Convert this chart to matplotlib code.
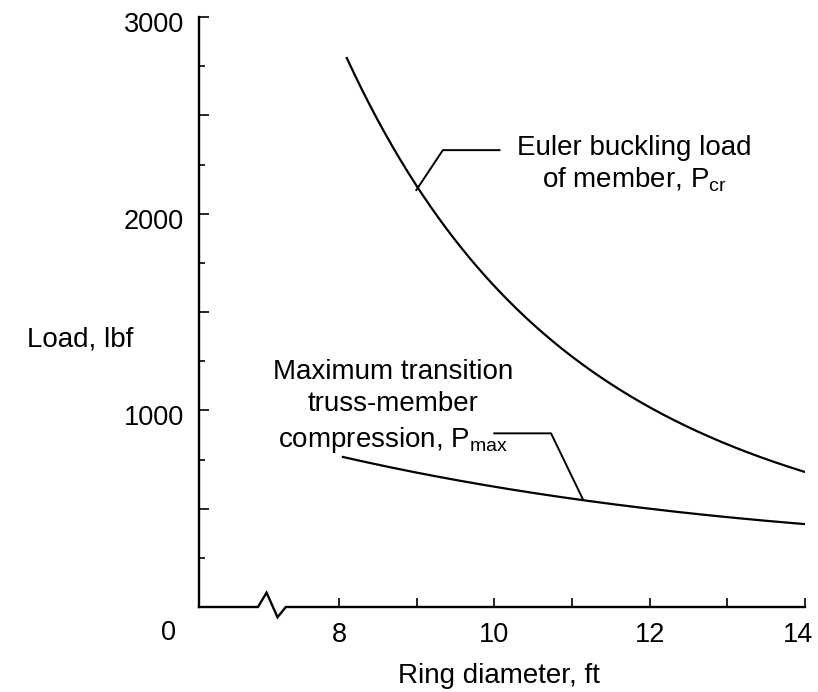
import matplotlib.pyplot as plt
import matplotlib.transforms as mtransforms
import numpy as np

plt.rcParams['font.family'] = ['Liberation Sans', 'DejaVu Sans']
plt.rcParams['mathtext.fontset'] = 'custom'
plt.rcParams['mathtext.rm'] = 'Liberation Sans'
plt.rcParams['mathtext.it'] = 'Liberation Sans:italic'

# Euler buckling load of member, P_cr (lbf) vs ring diameter (ft)
euler_d = [8.1, 8.5, 9.0, 9.5, 10.0, 10.5, 11.0, 11.5, 12.0, 12.5, 13.0, 13.5, 14.0]
euler_p = [2825, 2445, 2130, 1860, 1625, 1450, 1285, 1140, 1010, 908, 825, 750, 690]

# maximum transition truss-member compression, P_max (lbf)
pmax_d = [8.05, 9.0, 10.0, 11.0, 12.0, 13.0, 14.0]
pmax_p = [765, 678, 615, 552, 499, 456, 422]

x_ticks = [8, 10, 12, 14]
y_ticks = [1000, 2000, 3000]

x_left, x_right = 6.197, 14.0

fig = plt.figure(figsize=(8.18, 6.92), dpi=100)
ax = fig.add_axes([199 / 818, 85 / 692, 606 / 818, 590 / 692])
ax.set_xlim(x_left, x_right)
ax.set_ylim(0, 3000)

for s in ['top', 'right', 'bottom']:
    ax.spines[s].set_visible(False)
ax.spines['left'].set_linewidth(1.7)

# smooth curves through the read values
def smooth(xs, ys):
    xs = np.asarray(xs, float)
    ys = np.asarray(ys, float)
    xx = np.linspace(xs[0], xs[-1], 300)
    coef = np.polyfit(xs, np.log(ys), 3)
    return xx, np.exp(np.polyval(coef, xx))

ex, ey = smooth(euler_d, euler_p)
px, py = smooth(pmax_d, pmax_p)
ax.plot(ex, ey, color='black', lw=1.6)
ax.plot(px, py, color='black', lw=1.6)

# x axis with a break mark between 0 and 8
brk_x = [x_left, 6.956, 7.067, 7.208, 7.315, x_right]
brk_y = [0, 0, 73, -52, 0, 0]
ax.plot(brk_x, brk_y, color='black', lw=1.7, clip_on=False,
        solid_joinstyle='miter')

# ticks
ax.set_xticks(x_ticks)
ax.set_xticks([9, 11, 13], minor=True)
ax.set_yticks(np.arange(250, 3000, 250), minor=True)
ax.set_yticks(np.arange(500, 3001, 500))
ax.set_yticklabels(['', str(y_ticks[0]), '', str(y_ticks[1]), '', str(y_ticks[2])])
ax.tick_params(axis='x', which='both', direction='in', length=6.5, width=1.2,
               labelsize=19.5, pad=10.5)
ax.tick_params(axis='y', which='major', direction='in', length=7.5, width=1.2,
               labelsize=19.5, pad=11)
ax.tick_params(axis='y', which='minor', direction='in', length=4, width=1.2)

offset = mtransforms.ScaledTranslation(0, -5 / 100, fig.dpi_scale_trans)
for lab in ax.get_yticklabels():
    lab.set_transform(lab.get_transform() + offset)

# last x label sits a little left of its tick
shift = mtransforms.ScaledTranslation(-7 / 100, 0, fig.dpi_scale_trans)
last = ax.get_xticklabels()[-1]
last.set_transform(last.get_transform() + shift)

# leader lines
ax.plot([8.995, 9.337, 10.066], [2120, 2323, 2323], color='black', lw=1.4)
ax.plot([10.0, 10.73, 11.14], [883, 883, 548], color='black', lw=1.4)

fs = 20
ax.text(11.80, 2298, 'Euler buckling load', fontsize=fs, ha='center', va='baseline')
ax.text(11.80, 2135, r'of member, P$_{\mathrm{cr}}$', fontsize=fs, ha='center', va='baseline')
ax.text(8.697, 1158, 'Maximum transition', fontsize=fs, ha='center', va='baseline')
ax.text(8.697, 998, 'truss-member', fontsize=fs, ha='center', va='baseline')
ax.text(8.697, 815, r'compression, P$_{\mathrm{max}}$', fontsize=fs, ha='center', va='baseline')

fig.text(80 / 818, 1 - 346 / 692, 'Load, lbf', fontsize=fs, ha='center', va='baseline')
fig.text(498.5 / 818, 1 - 683 / 692, 'Ring diameter, ft', fontsize=fs, ha='center', va='baseline')
fig.text(168 / 818, 1 - 633 / 692, '0', fontsize=19.5, ha='center', va='center')

fig.savefig('out.png', dpi=100)
